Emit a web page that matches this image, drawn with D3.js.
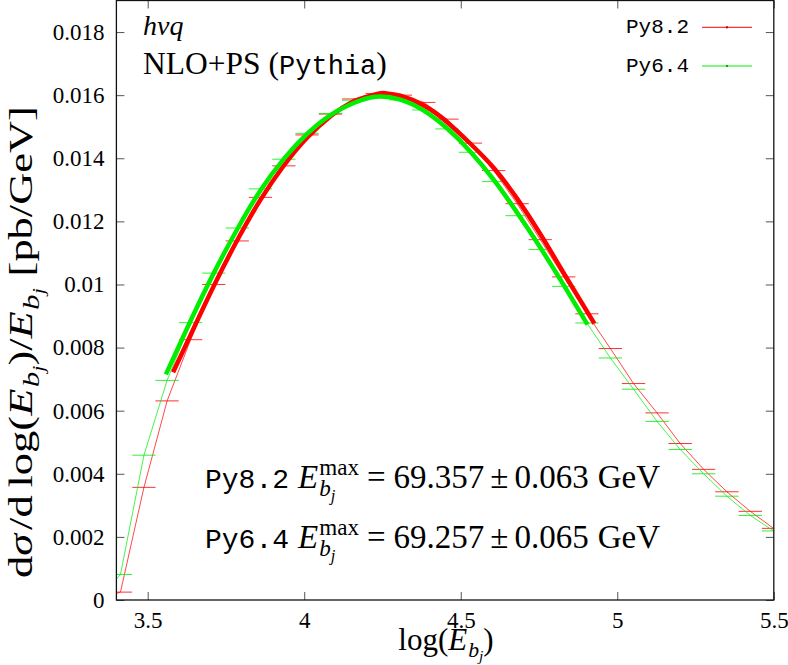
<!DOCTYPE html>
<html><head><meta charset="utf-8">
<script src="https://cdn.jsdelivr.net/npm/d3@7"></script>
<style>body{margin:0;background:#fff}svg{display:block}</style>
</head><body>
<script>
// ---------------- data ----------------
const binCenters = [3.339,3.413,3.488,3.562,3.637,3.711,3.786,3.860,3.935,4.009,4.084,4.158,4.233,4.307,4.382,4.456,4.531,4.605,4.680,4.754,4.829,4.903,4.978,5.052,5.127,5.201,5.276,5.350,5.425,5.499];
const binHalfWidth = 0.0372;
const py82Values = [0,0.00025,0.00357,0.00631,0.00825,0.01000,0.01138,0.01276,0.01376,0.01474,0.01540,0.01588,0.01605,0.01600,0.01577,0.01524,0.01448,0.01361,0.01256,0.01142,0.01024,0.00907,0.00797,0.00686,0.00593,0.00496,0.00414,0.00343,0.00281,0.00227];
const py64Values = [0,0.00081,0.00459,0.00696,0.00879,0.01036,0.01179,0.01303,0.01397,0.01479,0.01542,0.01584,0.01597,0.01585,0.01553,0.01493,0.01419,0.01326,0.01218,0.01111,0.00994,0.00878,0.00767,0.00668,0.00566,0.00477,0.00400,0.00329,0.00268,0.00219];
const py82FitX = [3.581,3.637,3.711,3.786,3.860,3.935,4.009,4.084,4.158,4.233,4.260,4.307,4.382,4.456,4.531,4.605,4.680,4.754,4.829,4.927];
const py82FitY = [0.00722,0.00840,0.00995,0.01140,0.01268,0.01377,0.01465,0.01533,0.01580,0.01604,0.01606,0.01598,0.01567,0.01515,0.01446,0.01370,0.01272,0.01160,0.01036,0.00876];
const py64FitX = [3.558,3.637,3.711,3.786,3.860,3.935,4.009,4.084,4.158,4.227,4.307,4.382,4.456,4.531,4.605,4.680,4.754,4.829,4.905];
const py64FitY = [0.00715,0.00885,0.01036,0.01175,0.01298,0.01398,0.01477,0.01537,0.01575,0.01595,0.01586,0.01551,0.01495,0.01421,0.01332,0.01228,0.01117,0.00998,0.00873];
const seriesNames = ["Py8.2","Py6.4"];
const seriesColors = ["#ff0000","#00ee00"];
const xTicks = [3.5,4,4.5,5,5.5];
const xTickLabels = ["3.5","4","4.5","5","5.5"];
const yTicks = [0,0.002,0.004,0.006,0.008,0.01,0.012,0.014,0.016,0.018];
const yTickLabels = ["0","0.002","0.004","0.006","0.008","0.01","0.012","0.014","0.016","0.018"];
const emaxValues = ["69.357","69.257"];
const emaxErrors = ["0.063","0.065"];

// ---------------- layout ----------------
const W = 788, H = 665;
const L = 116.4, R = 773.8, T = 0.5, B = 600;
const SERIF = "Liberation Serif";
const MONO = "Liberation Mono";

const svg = d3.select("body").append("svg").attr("width", W).attr("height", H);
const x = d3.scaleLinear().domain([3.4, 5.5]).range([L, R]);
const y = d3.scaleLinear().domain([0, 0.019]).range([B, T]);

svg.append("clipPath").attr("id","clip").append("rect")
  .attr("x", L).attr("y", T).attr("width", R-L).attr("height", B-T);

function styleAxis(g, showLabels, size){
  g.select(".domain").remove();
  g.selectAll(".tick line").attr("stroke","#555").attr("stroke-width",1);
  g.selectAll(".tick text").attr("fill","#000").attr("font-family",SERIF).attr("font-size",size);
  if(!showLabels) g.selectAll(".tick text").remove();
}
svg.append("g").attr("transform",`translate(${L},0)`)
  .call(d3.axisLeft(y).tickValues(yTicks).tickFormat((d,i)=>yTickLabels[i]).tickSizeInner(-8).tickSizeOuter(0).tickPadding(12))
  .call(g=>styleAxis(g,true,23));
svg.append("g").attr("transform",`translate(${R},0)`)
  .call(d3.axisRight(y).tickValues(yTicks).tickSizeInner(-8).tickSizeOuter(0))
  .call(g=>styleAxis(g,false,23));
svg.append("g").attr("transform",`translate(0,${B})`)
  .call(d3.axisBottom(x).tickValues(xTicks).tickFormat((d,i)=>xTickLabels[i]).tickSizeInner(-8).tickSizeOuter(0).tickPadding(12))
  .call(g=>styleAxis(g,true,23));
svg.append("g").attr("transform",`translate(0,${T})`)
  .call(d3.axisTop(x).tickValues(xTicks).tickSizeInner(-8).tickSizeOuter(0))
  .call(g=>styleAxis(g,false,23));

const plot = svg.append("g").attr("clip-path","url(#clip)");
[py82Values, py64Values].forEach((vals, s) => {
  const pts = binCenters.map((c,i)=>[c, vals[i]]);
  plot.append("path").datum(pts)
    .attr("d", d3.line().x(d=>x(d[0])).y(d=>y(d[1])))
    .attr("fill","none").attr("stroke",seriesColors[s]).attr("stroke-width",0.9).attr("opacity",0.8);
  plot.append("g").selectAll("line").data(pts).join("line")
    .attr("x1",d=>x(d[0]-binHalfWidth)).attr("x2",d=>x(d[0]+binHalfWidth))
    .attr("y1",d=>y(d[1])).attr("y2",d=>y(d[1]))
    .attr("stroke",seriesColors[s]).attr("stroke-width",1).attr("opacity",0.8);
});
[[py82FitX, py82FitY],[py64FitX, py64FitY]].forEach((f, s) => {
  const pts = f[0].map((v,i)=>[v, f[1][i]]);
  plot.append("path").datum(pts)
    .attr("d", d3.line().curve(d3.curveNatural).x(d=>x(d[0])).y(d=>y(d[1])))
    .attr("fill","none").attr("stroke",seriesColors[s]).attr("stroke-width",4.5);
});

svg.append("rect").attr("x",L).attr("y",T).attr("width",R-L).attr("height",B-T)
  .attr("fill","none").attr("stroke","#111").attr("stroke-width",1.3);

function rich(parent, px, py, pieces, opts={}) {
  const outer = parent.append("g");
  const g = outer.append("g");
  let cur = 0, maxX = 0, mark = 0;
  pieces.forEach(p => {
    if (p.flush) cur = maxX;
    if (p.fromMark) cur = mark;
    if (p.mark) mark = cur;
    cur += (p.pre||0);
    const t = g.append("text").attr("x", cur).attr("y", p.dy||0).text(p.t)
      .attr("font-family", p.mono ? MONO : SERIF)
      .attr("font-size", p.size)
      .attr("font-style", p.it ? "italic" : "normal")
      .attr("fill","#000");
    cur += t.node().getComputedTextLength() + (p.gap||0);
    maxX = Math.max(maxX, cur);
  });
  const k = opts.targetWidth ? opts.targetWidth / maxX : 1;
  const off = opts.anchor === "middle" ? -maxX*k/2 : 0;
  g.attr("transform", `translate(${off},0) scale(${k},1)`);
  outer.attr("transform", `translate(${px},${py})` + (opts.rotate ? ` rotate(${opts.rotate})` : ""));
  return maxX;
}
function ebj(S){
  return [
    {t:"E", size:S, it:true, gap:1},
    {t:"b", size:S*0.7, it:true, dy:S*0.22},
    {t:"j", size:S*0.5, it:true, dy:S*0.36}
  ];
}

rich(svg, 143, 35, [{t:"hvq", size:28, it:true}]);
rich(svg, 143, 74, [{t:"NLO+PS", size:31.5, gap:8},{t:"(", size:31.5},{t:"Pythia", size:27, mono:true},{t:")", size:31.5}]);

seriesNames.forEach((n,i)=>{
  const ly = 27.3 + i*38.7;
  svg.append("text").attr("x",689).attr("y",ly+6).attr("text-anchor","end")
    .attr("font-family",MONO).attr("font-size",21).attr("fill","#000").text(n);
  svg.append("line").attr("x1",702).attr("x2",752).attr("y1",ly).attr("y2",ly)
    .attr("stroke",seriesColors[i]).attr("stroke-width",1);
  svg.append("rect").attr("x",726).attr("y",ly-1).attr("width",2).attr("height",2).attr("fill",i?"#00aa00":"#bb0000");
});

seriesNames.forEach((n,i)=>{
  const S = 33;
  rich(svg, 205, 488 + i*60, [
    {t:n, size:28, mono:true, gap:9},
    {t:"E", size:S, it:true, gap:1},
    {t:"max", size:S*0.7, dy:-S*0.38, mark:true},
    {t:"b", size:S*0.7, it:true, dy:S*0.25, fromMark:true},
    {t:"j", size:S*0.5, it:true, dy:S*0.4},
    {t:"=", size:S, flush:true, pre:8, gap:8},
    {t:emaxValues[i], size:S, gap:6},
    {t:"±", size:S, gap:6},
    {t:emaxErrors[i], size:S, gap:9},
    {t:"GeV", size:S}
  ]);
});

{
  const S = 31;
  rich(svg, 446, 650, [
    {t:"log(", size:S},
    ...ebj(S),
    {t:")", size:S, flush:true}
  ], {anchor:"middle"});
  const S2 = 34;
  rich(svg, 32, 342, [
    {t:"d", size:S2},
    {t:"σ", size:S2, it:true, gap:3},
    {t:"/d", size:S2, gap:6},
    {t:"log(", size:S2},
    ...ebj(S2),
    {t:")/", size:S2, flush:true},
    ...ebj(S2),
    {t:"[pb/GeV]", size:S2, flush:true, pre:9}
  ], {anchor:"middle", rotate:-90, targetWidth:472});
}
</script>
</body></html>
